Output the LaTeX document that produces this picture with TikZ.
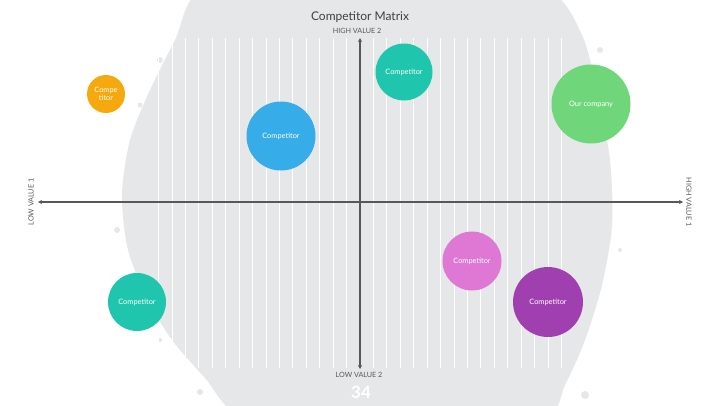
\documentclass[tikz,border=0pt]{standalone}
\usepackage{fontspec}
\setmainfont{Lato}
\usetikzlibrary{arrows.meta, positioning}
\definecolor{blobgray}{RGB}{229,231,233}
\definecolor{axisgray}{RGB}{88,88,88}
\definecolor{titlegray}{RGB}{64,64,64}
\definecolor{compteal}{RGB}{31,197,172}
\definecolor{comporange}{RGB}{245,169,14}
\definecolor{compgreen}{RGB}{111,214,122}
\definecolor{compblue}{RGB}{54,172,232}
\definecolor{comppink}{RGB}{222,120,212}
\definecolor{comppurple}{RGB}{160,64,176}
\begin{document}
\begin{tikzpicture}[x=1pt, y=-1pt,
     comp/.style = {circle, inner sep=0pt, text=white, align=center,
                    font=\fontsize{7.4}{8.4}\selectfont},
  axlabel/.style = {text=axisgray, inner sep=1pt, font=\fontsize{7.2}{8}\selectfont},
     axis/.style = {draw=axisgray, line width=1.3pt,
                    {Stealth[length=4pt,width=4pt]}-{Stealth[length=4pt,width=4pt]}}
                    ]
\useasboundingbox (0,0) rectangle (720,405);
% gray splash behind the matrix
\fill[blobgray] plot[smooth cycle, tension=0.5] coordinates {
  (200,-8) (290,-10) (380,-10) (470,-10) (550,-8) (582,35) (598,95)
  (610,160) (612,225) (602,285) (585,340) (565,385) (545,415) (440,418)
  (330,418) (240,415) (205,378) (172,340) (148,300) (128,250) (122,195)
  (130,140) (150,90) (175,40)};
\foreach \px/\py/\r in {160/60/3, 143/150/4, 140/105/2.5, 600/50/3, 620/250/2,
                        117/230/3, 585/395/4, 160/340/2, 612/120/2.5, 200/392/3}
  \fill[blobgray] (\px,\py) circle (\r);
% stripes
\foreach \i in {-15,...,15}
  \draw[white, line width=0.8pt] (360+\i*13.43,38) -- (360+\i*13.43,368);
% slide number
\node (slidenum) [text=white, font=\bfseries\fontsize{17}{17}\selectfont] at (361,392) {34};
% axes
\coordinate (west)  at (38,202);
\coordinate (east)  at (683,202);
\coordinate (north) at (360,38);
\coordinate (south) at (360,369);
\draw[axis] (west) -- (east);
\draw[axis] (south) -- (north);
\node (title) [text=titlegray, font=\fontsize{12}{14}\selectfont] at (360,17) {Competitor Matrix};
\node (hightwo) [axlabel] at (357,31) {HIGH VALUE 2};
\node (lowtwo)  [axlabel] at (359,375) {LOW VALUE 2};
\node (lowone)  [axlabel, rotate=90]  at (31,202) {LOW VALUE 1};
\node (highone) [axlabel, rotate=-90] at (689,202) {HIGH VALUE 1};
% competitors
\node (orange) [comp, fill=comporange, minimum size=38pt] at (106,94) {Compe\\titor};
\node (tealtop) [comp, fill=compteal, minimum size=57pt] at (404,72) {Competitor};
\node (ours) [comp, fill=compgreen, minimum size=79pt] at (591,104) {Our company};
\node (blue) [comp, fill=compblue, minimum size=69pt] at (281,136) {Competitor};
\node (pink) [comp, fill=comppink, minimum size=59pt] at (472,261) {Competitor};
\node (purple) [comp, fill=comppurple, minimum size=70pt] at (548,302) {Competitor};
\node (tealbot) [comp, fill=compteal, minimum size=58pt] at (137,302) {Competitor};
\end{tikzpicture}
\end{document}
